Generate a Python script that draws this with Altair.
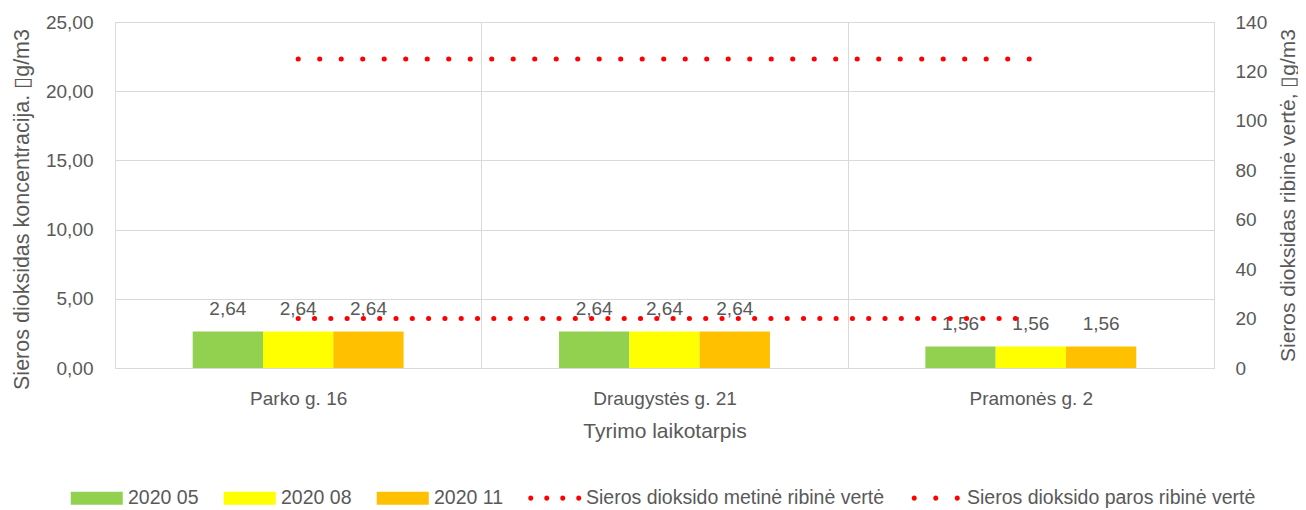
import altair as alt
import pandas as pd

categories = ["Parko g. 16", "Draugystės g. 21", "Pramonės g. 2"]
periods = ["2020 05", "2020 08", "2020 11"]
values_2020_05 = [2.64, 2.64, 1.56]
values_2020_08 = [2.64, 2.64, 1.56]
values_2020_11 = [2.64, 2.64, 1.56]
limit_names = ["Sieros dioksido metinė ribinė vertė", "Sieros dioksido paros ribinė vertė"]
annual_limit = [20, 20, 20]
daily_limit = [125, 125, 125]

left_ticks = [0, 5, 10, 15, 20, 25]
right_ticks = [0, 20, 40, 60, 80, 100, 120, 140]

series_all = periods + limit_names
colors = ["#92d050", "#ffff00", "#ffc000", "#ff0000", "#ff0000"]

# legend symbol paths (unit = half of sqrt(symbolSize) = 6.5 px)
rect_path = "M-4,-1H4V1H-4Z"

def dots(centers, r=0.385):
    return " ".join(
        f"M{c - r},0a{r},{r} 0 1,0 {2 * r},0a{r},{r} 0 1,0 {-2 * r},0" for c in centers
    )

shapes = [rect_path, rect_path, rect_path,
          dots([-3.69, -1.23, 1.23, 3.69]),
          dots([-3.31, 0.0, 3.31])]

bar_rows = []
for p, vals in zip(periods, [values_2020_05, values_2020_08, values_2020_11]):
    for c, v in zip(categories, vals):
        bar_rows.append({"category": c, "series": p, "value": v})
bars_df = pd.DataFrame(bar_rows)

line_rows = []
for name, vals in zip(limit_names, [annual_limit, daily_limit]):
    for c, v in zip(categories, vals):
        line_rows.append({"category": c, "series": name, "limit": v})
lines_df = pd.DataFrame(line_rows)

FONT = "Liberation Sans"
TXT = "#595959"
GRID = "#d9d9d9"
LBL = 19
TTL = 21

x_enc = alt.X(
    "category:N", sort=categories, title="Tyrimo laikotarpis",
    scale=alt.Scale(paddingInner=0, paddingOuter=0),
    axis=alt.Axis(grid=True, tickBand="extent", gridColor=GRID, domain=False,
                  ticks=False, tickSize=0, labelAngle=0, labelPadding=21,
                  labelFont=FONT, labelFontSize=LBL, labelColor=TXT,
                  titleFont=FONT, titleFontSize=TTL, titleColor=TXT,
                  titleFontWeight="normal", titlePadding=12),
)

# bar group occupies the middle 57.6 % of each category band
x_off = alt.XOffset("series:N", sort=periods,
                    scale=alt.Scale(paddingInner=0, paddingOuter=0, range=[77.7, 288.6]))

color_enc = alt.Color(
    "series:N",
    scale=alt.Scale(domain=series_all, range=colors),
    legend=alt.Legend(title=None, orient="none", legendX=-47.5, legendY=466,
                      direction="horizontal", columns=5,
                      symbolSize=169, symbolStrokeWidth=0, symbolOffset=19.5,
                      labelFont=FONT, labelFontSize=19.5, labelColor=TXT,
                      labelOffset=21.5, columnPadding=22, labelLimit=400),
)

y_left = alt.Y(
    "value:Q",
    scale=alt.Scale(domain=[0, 25], nice=False),
    axis=alt.Axis(values=left_ticks, grid=True, gridColor=GRID, domain=False,
                  ticks=False, tickSize=0, labelPadding=22,
                  labelExpr="replace(format(datum.value, '.2f'), '.', ',')",
                  labelFont=FONT, labelFontSize=LBL, labelColor=TXT,
                  title="Sieros dioksidas koncentracija. \u25afg/m3",
                  titleFont=FONT, titleFontSize=21.5, titleColor=TXT,
                  titleFontWeight="normal", titlePadding=12, titleY=187),
)

bars = alt.Chart(bars_df).mark_bar().encode(
    x=x_enc, xOffset=x_off, y=y_left, color=color_enc,
)

labels = alt.Chart(bars_df).transform_calculate(
    label="replace(format(datum.value, '.2f'), '.', ',')"
).mark_text(font=FONT, fontSize=LBL, color=TXT, baseline="alphabetic", dy=-16).encode(
    x=x_enc, xOffset=x_off, y=y_left, text="label:N",
)

left = alt.layer(bars, labels)

y_right = alt.Y(
    "limit:Q",
    scale=alt.Scale(domain=[0, 140], nice=False),
    axis=alt.Axis(orient="right", values=right_ticks, grid=False, domain=False,
                  ticks=False, tickSize=0, labelPadding=21, labelAlign="left",
                  labelFont=FONT, labelFontSize=LBL, labelColor=TXT,
                  title="Sieros dioksidas ribinė vertė, \u25afg/m3",
                  titleFont=FONT, titleFontSize=TTL, titleColor=TXT,
                  titleFontWeight="normal", titlePadding=11,
                  titleAngle=270, titleBaseline="top"),
)

line_color = alt.Color("series:N", scale=alt.Scale(domain=series_all, range=colors), legend=None)

annual_line = alt.Chart(lines_df).transform_filter(
    alt.datum.series == limit_names[0]
).mark_line(strokeDash=[0.1, 16.2], strokeCap="round", strokeWidth=5).encode(
    x=x_enc, y=y_right, color=line_color,
)

daily_line = alt.Chart(lines_df).transform_filter(
    alt.datum.series == limit_names[1]
).mark_line(strokeDash=[0.1, 21.4], strokeCap="round", strokeWidth=5).encode(
    x=x_enc, y=y_right, color=line_color,
)

legend_pts = alt.Chart(lines_df).mark_point(filled=True, size=0, opacity=1).encode(
    x=x_enc, y=y_right,
    color=color_enc,
    shape=alt.Shape("series:N", scale=alt.Scale(domain=series_all, range=shapes)),
)

right = alt.layer(annual_line, daily_line, legend_pts)

chart = alt.layer(left, right).resolve_scale(y="independent").properties(
    width=1099, height=346,
    autosize=alt.AutoSizeParams(type="none"),
    padding={"left": 107, "top": 14, "right": 84, "bottom": 140},
).configure_view(stroke=GRID, strokeWidth=1).configure(background="white")

chart.save("out.html", embed_options={"renderer": "svg", "actions": False})
